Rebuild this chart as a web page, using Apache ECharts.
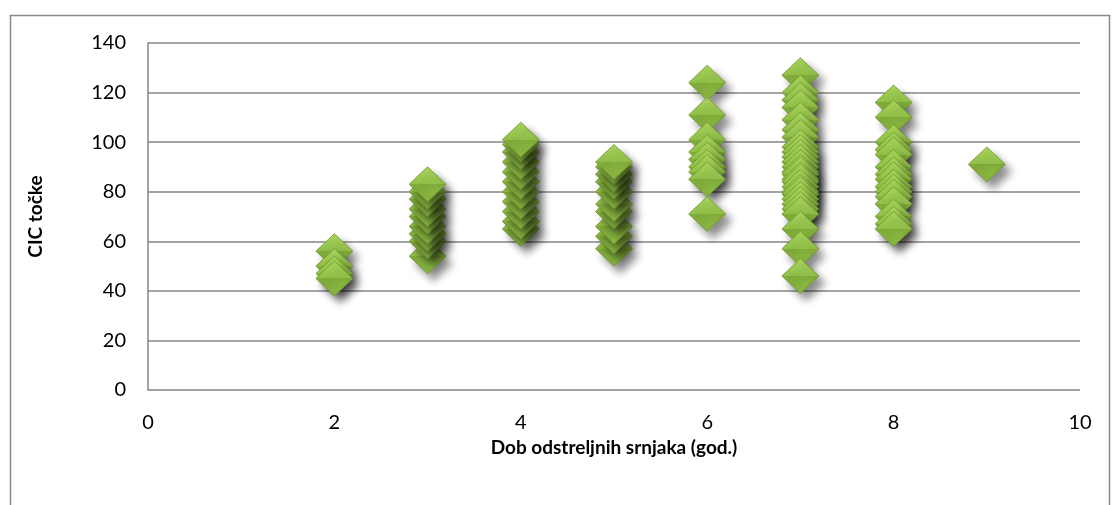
<!DOCTYPE html>
<html>
<head>
<meta charset="utf-8">
<script src="https://cdn.jsdelivr.net/npm/echarts@6/dist/echarts.min.js"></script>
<style>
  html, body { margin: 0; padding: 0; background: #fff; }
  #chart { width: 1115px; height: 505px; }
</style>
</head>
<body>
<div id="chart"></div>
<script>
  'use strict';

  // dob (godine) -> CIC točke, očitano sa slike
  var age2 = [56, 50, 47, 45];
  var age3 = [54, 60, 63, 66, 70, 73, 77, 80, 83];
  var age4 = [65, 68, 72, 76, 80, 84, 88, 92, 96, 99, 101];
  var age5 = [57, 62, 66, 72, 75, 80, 84, 87, 90, 92];
  var age6 = [124, 111, 101, 96, 93, 90, 88, 85, 71];
  var age7 = [127, 120, 117, 114, 109, 105, 102, 98, 96, 94, 92, 90, 88, 87, 85, 84, 82, 80, 79, 77, 75, 73, 71, 65, 57, 46];
  var age8 = [116, 110, 100, 97, 95, 90, 87, 85, 82, 80, 78, 75, 70, 67, 65];
  var age9 = [91];

  var groups = [[2, age2], [3, age3], [4, age4], [5, age5], [6, age6], [7, age7], [8, age8], [9, age9]];
  var points = [];
  groups.forEach(function(g) {
    g[1].forEach(function(v) { points.push([g[0], v]); });
  });

  var font = 'Lato, "Open Sans", sans-serif';
  var chart = echarts.init(document.getElementById('chart'));

  chart.setOption({
    animation: false,
    graphic: [{
      type: 'rect',
      left: 8, top: 13,
      shape: { width: 1099, height: 520 },
      style: { fill: 'none', stroke: '#8a8a8a', lineWidth: 1.5 },
      silent: true
    }],
    grid: { left: 148, right: 35, top: 43, bottom: 115 },
    xAxis: {
      type: 'value',
      min: 0, max: 10, interval: 2,
      name: 'Dob odstreljnih srnjaka (god.)',
      nameLocation: 'middle',
      nameGap: 43,
      nameTextStyle: { fontFamily: font, fontSize: 19, fontWeight: 'bold', color: '#000' },
      axisLine: { show: false },
      axisTick: { show: false },
      splitLine: { show: false },
      axisLabel: { fontFamily: font, fontSize: 20, color: '#000', margin: 23 }
    },
    yAxis: {
      type: 'value',
      min: 0, max: 140, interval: 20,
      name: 'CIC točke',
      nameLocation: 'middle',
      nameGap: 103,
      nameTextStyle: { fontFamily: font, fontSize: 19, fontWeight: 'bold', color: '#000' },
      axisLine: { show: true, lineStyle: { color: '#868686', width: 1.5 } },
      axisTick: { show: false },
      splitLine: { lineStyle: { color: '#868686', width: 1.5 } },
      axisLabel: { fontFamily: font, fontSize: 20, color: '#000', margin: 22 }
    },
    series: [{
      type: 'scatter',
      symbol: 'diamond',
      symbolSize: [37, 35],
      data: points,
      itemStyle: {
        color: new echarts.graphic.LinearGradient(0, 0, 0, 1, [
          { offset: 0, color: '#a8d45c' },
          { offset: 0.5, color: '#92c148' },
          { offset: 0.5, color: '#82ae3b' },
          { offset: 1, color: '#8cb944' }
        ]),
        borderColor: '#6f972e',
        borderWidth: 0.8,
        shadowColor: 'rgba(0,0,0,0.45)',
        shadowBlur: 9,
        shadowOffsetX: 6,
        shadowOffsetY: 7,
        opacity: 1
      }
    }]
  });
</script>
</body>
</html>
